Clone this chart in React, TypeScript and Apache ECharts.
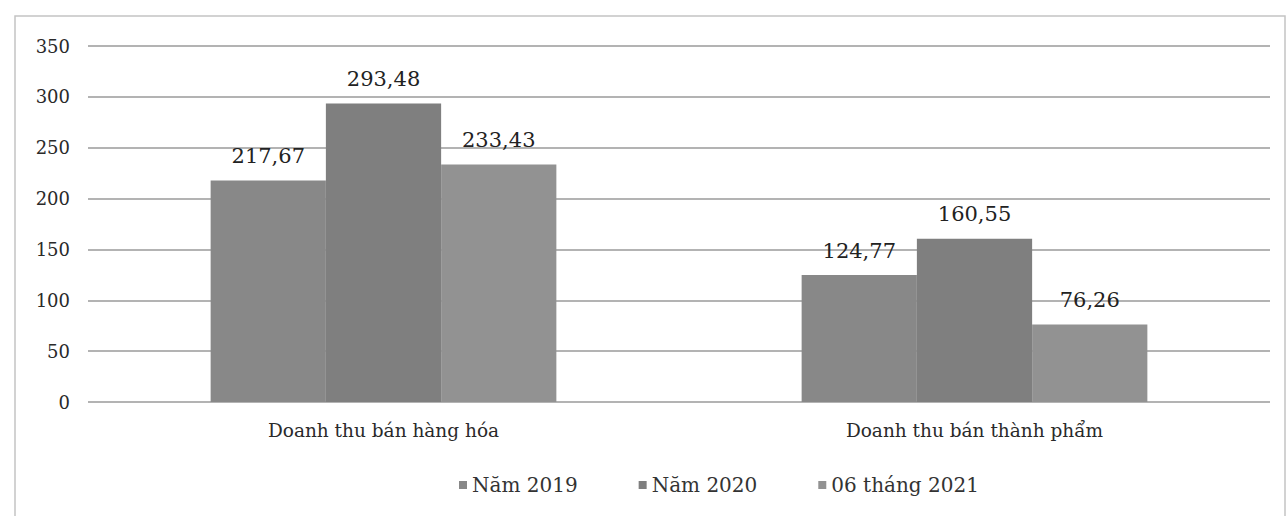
import React, { useEffect, useRef } from "react";
import * as echarts from "echarts";

const categories = ["Doanh thu bán hàng hóa", "Doanh thu bán thành phẩm"];
const seriesNames = ["Năm 2019", "Năm 2020", "06 tháng 2021"];
const values2019 = [217.67, 124.77];
const values2020 = [293.48, 160.55];
const values2021 = [233.43, 76.26];
const seriesColors = ["#888888", "#7f7f7f", "#929292"];

const fmt = (v: number) => v.toFixed(2).replace(".", ",");

export default function App() {
  const ref = useRef<HTMLDivElement>(null);
  useEffect(() => {
    if (!ref.current) return;
    const chart = echarts.init(ref.current, null, { renderer: "svg" });
    const font = "DejaVu Serif";
    const data = [values2019, values2020, values2021];
    chart.setOption({
      animation: false,
      backgroundColor: "#ffffff",
      textStyle: { fontFamily: font },
      graphic: [
        {
          type: "rect",
          shape: { x: 15, y: 16, width: 1270, height: 520 },
          style: { fill: "none", stroke: "#c4c4c4", lineWidth: 1.5 },
          silent: true,
        },
      ],
      legend: {
        top: 470,
        left: 454,
        itemWidth: 8,
        itemHeight: 8,
        itemGap: 61,
        icon: "rect",
        textStyle: { fontFamily: font, fontSize: 20, color: "#333" },
        data: seriesNames,
      },
      grid: { left: 88, right: 17, top: 46, bottom: 114 },
      xAxis: {
        type: "category",
        data: categories,
        axisLine: { show: false },
        axisTick: { show: false },
        axisLabel: { fontFamily: font, fontSize: 18.5, color: "#2a2a2a", margin: 19 },
      },
      yAxis: {
        type: "value",
        min: 0,
        max: 350,
        interval: 50,
        axisLine: { show: false },
        axisTick: { show: false },
        axisLabel: { fontFamily: font, fontSize: 18, color: "#2a2a2a", margin: 18 },
        splitLine: { lineStyle: { color: "#9a9a9a", width: 1.5 } },
      },
      series: seriesNames.map((name, i) => ({
        name,
        type: "bar",
        data: data[i],
        barWidth: "19.5%",
        barGap: "0%",
        itemStyle: { color: seriesColors[i] },
        label: {
          show: true,
          position: "top",
          distance: 14,
          fontFamily: font,
          fontSize: 21,
          color: "#222",
          formatter: (p: any) => fmt(p.value),
        },
      })),
    });
    return () => chart.dispose();
  }, []);
  return (
    <div
      ref={ref}
      style={{ position: "absolute", left: 0, top: 0, width: 1287, height: 516 }}
    />
  );
}
